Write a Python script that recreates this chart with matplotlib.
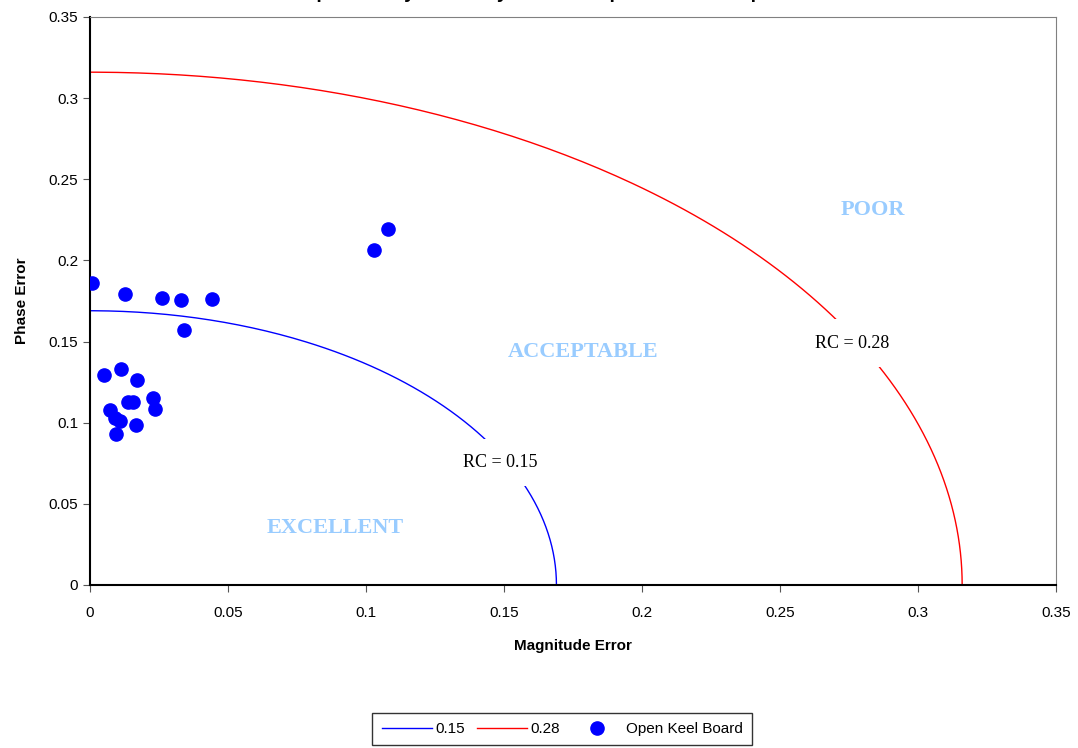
import numpy as np
import matplotlib
matplotlib.use("Agg")
import matplotlib.pyplot as plt

# RC limit curves (radius of the quarter circles)
rc_values = [0.169, 0.316]
rc_names = ["0.15", "0.28"]
rc_colors = ["blue", "red"]

# measured points (magnitude error, phase error)
mag_err = [0.0006, 0.0126, 0.0261, 0.0329, 0.0442, 0.0340, 0.0052, 0.0113, 0.0172, 0.0230,
           0.0139, 0.0157, 0.0073, 0.0235, 0.0090, 0.0109, 0.0168, 0.0094, 0.1030, 0.1081]
phase_err = [0.1863, 0.1791, 0.1770, 0.1754, 0.1762, 0.1569, 0.1294, 0.1331, 0.1261, 0.1154,
             0.1128, 0.1128, 0.1076, 0.1083, 0.1027, 0.1011, 0.0986, 0.0932, 0.2064, 0.2194]

fig = plt.figure(figsize=(10.78, 7.48), dpi=100)
ax = fig.add_axes([90/1078, 1-585/748, (1056-90)/1078, (585-17)/748])

# quarter circles
theta = np.linspace(0, np.pi/2, 200)
for r, name, c in zip(rc_values, rc_names, rc_colors):
    ax.plot(r*np.cos(theta), r*np.sin(theta), color=c, lw=1, label=name)

ax.plot(mag_err, phase_err, "o", color="blue", ms=9.5, ls="none", label="Open Keel Board", zorder=5)

# RC labels with white box (hides part of the curve)
serif = "Liberation Serif"
ax.text(0.1485, 0.0755, "RC = 0.15", family=serif, fontsize=13, ha="center", va="center",
        bbox=dict(facecolor="white", edgecolor="none", pad=11), zorder=4)
ax.text(0.2763, 0.1490, "RC = 0.28", family=serif, fontsize=13, ha="center", va="center",
        bbox=dict(facecolor="white", edgecolor="none", pad=11), zorder=4)

# zone names
zone_col = "#99CCFF"
ax.text(0.0888, 0.0350, "EXCELLENT", family=serif, fontsize=16, weight="bold", color=zone_col, ha="center", va="center")
ax.text(0.1785, 0.1437, "ACCEPTABLE", family=serif, fontsize=16, weight="bold", color=zone_col, ha="center", va="center")
ax.text(0.2835, 0.2312, "POOR", family=serif, fontsize=16, weight="bold", color=zone_col, ha="center", va="center")

ax.set_xlim(0, 0.35)
ax.set_ylim(0, 0.35)
ax.set_xticks(np.arange(0, 0.36, 0.05))
ax.set_yticks(np.arange(0, 0.36, 0.05))
ax.set_xticklabels(["0", "0.05", "0.1", "0.15", "0.2", "0.25", "0.3", "0.35"])
ax.set_yticklabels(["0", "0.05", "0.1", "0.15", "0.2", "0.25", "0.3", "0.35"])
ax.tick_params(labelsize=11, direction="out", length=5, color="#555555")
for lab in ax.get_xticklabels() + ax.get_yticklabels():
    lab.set_family("Liberation Sans")
ax.tick_params(axis="x", pad=10)
ax.spines["top"].set_color("#808080")
ax.spines["right"].set_color("#808080")
ax.spines["left"].set_linewidth(1.5)
ax.spines["bottom"].set_linewidth(1.5)

ax.set_xlabel("Magnitude Error", family="Liberation Sans", weight="bold", fontsize=11, labelpad=14)
ax.set_ylabel("Phase Error", family="Liberation Sans", weight="bold", fontsize=11, labelpad=14)

# title sits mostly above the top of the image, like in the original
fig.text(0.255, 1.0027, "Sample Survey Accuracy Error Comparison of Sample Boards",
         family="Liberation Sans", weight="bold", fontsize=14, ha="left", va="baseline")

leg = fig.legend(loc="center", bbox_to_anchor=(562/1078, 1-729/748), ncol=3, frameon=True,
                 prop={"family": "Liberation Sans", "size": 11}, fancybox=False, edgecolor="black",
                 handlelength=3.3, handletextpad=0.2, columnspacing=0.8, borderpad=0.6)
leg.get_frame().set_linewidth(1)

fig.savefig("out.png", dpi=100)
